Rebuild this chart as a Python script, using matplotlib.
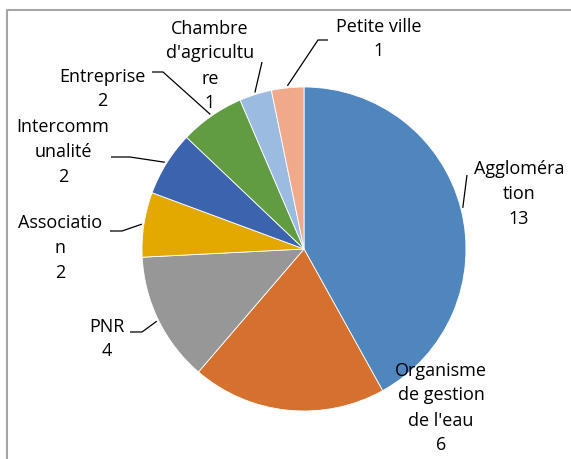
import numpy as np
import matplotlib.pyplot as plt

plt.rcParams['font.family'] = ['Open Sans', 'DejaVu Sans']

# données
categories = ["Agglomération", "Organisme de gestion de l'eau", "PNR", "Association",
              "Intercommunalité", "Entreprise", "Chambre d'agriculture", "Petite ville"]
valeurs = [13, 6, 4, 2, 2, 2, 1, 1]
# libellés tels qu'affichés (retours à la ligne du graphique d'origine)
libelles = ["Aggloméra\ntion", "Organisme\nde gestion\nde l'eau", "PNR", "Associatio\nn",
            "Intercomm\nunalité", "Entreprise", "Chambre\nd'agricultu\nre", "Petite ville"]
couleurs = ['#4F86BE', '#D5702E', '#979797', '#E4A900', '#3C63AD', '#619B42', '#9BBBE1', '#F1A98C']

W, H = 571, 459
fig = plt.figure(figsize=(W / 100, H / 100), dpi=100)
ax = fig.add_axes([0, 0, 1, 1])

cx, cy, r = 304, H - 249, 162
wedges, _ = ax.pie(valeurs, colors=couleurs, startangle=90, counterclock=False,
                   center=(cx, cy), radius=r, frame=True,
                   wedgeprops=dict(edgecolor='white', linewidth=0.6))
ax.set_xlim(0, W)
ax.set_ylim(0, H)
ax.set_aspect('equal')
ax.axis('off')

# position des étiquettes (pixels depuis le haut) et coude de la ligne de rappel
positions = [(519, 194), (441, 408), (107, 339), (60, 248),
             (63, 152), (102, 89), (210, 66), (379, 39)]
coudes = [(467, 175), None, (142, 332), (122, 231),
          (130, 157), (163, 72), (262, 62), (318, 40)]
ancres = [None, None, (130, 332), (110, 231),
          (111, 157), (152, 72), None, (328, 40)]

total = sum(valeurs)
cumul = 0
for i, (lab, v) in enumerate(zip(libelles, valeurs)):
    milieu = 90 - 360 * (cumul + v / 2) / total
    cumul += v
    x, y = positions[i]
    ax.text(x, H - y, f"{lab}\n{v}", ha='center', va='center', fontsize=13,
            linespacing=1.5, color='black')
    if coudes[i] is not None:
        a = np.deg2rad(milieu)
        px, py = cx + (r + 2) * np.cos(a), cy + (r + 2) * np.sin(a)
        xs = [px, coudes[i][0]]
        ys = [py, H - coudes[i][1]]
        if ancres[i] is not None:
            xs.append(ancres[i][0])
            ys.append(H - ancres[i][1])
        ax.plot(xs, ys, color='black', linewidth=0.9, solid_capstyle='butt')

# cadre de la zone de graphique
ax.plot([7, 7, W], [0, H - 10, H - 10], color='#A6A6A6', linewidth=1.5)

fig.savefig('out.png', dpi=100)
